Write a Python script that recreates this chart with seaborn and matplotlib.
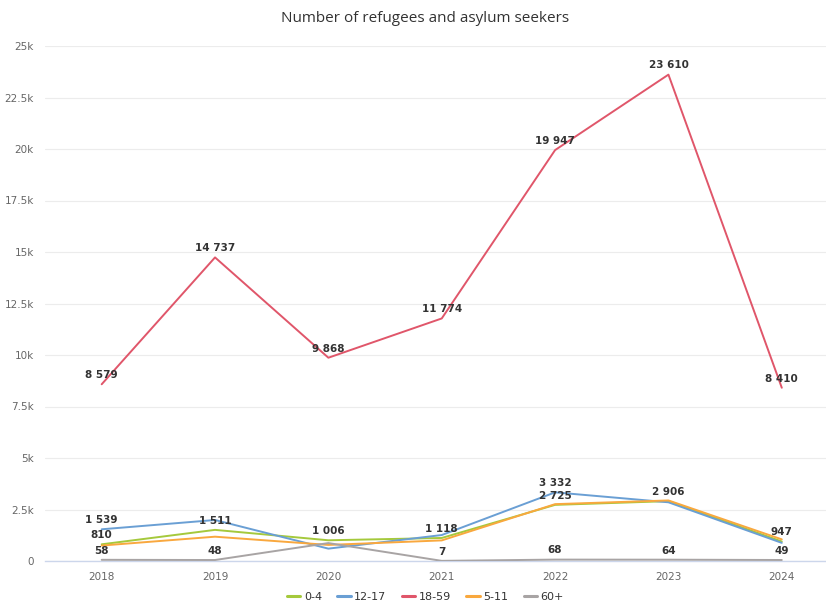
import matplotlib
matplotlib.use("Agg")
import matplotlib.pyplot as plt
import seaborn as sns
import pandas as pd

years = ["2018", "2019", "2020", "2021", "2022", "2023", "2024"]
age_0_4 = [810, 1511, 1006, 1118, 2725, 2906, 947]
age_12_17 = [1539, 1990, 600, 1260, 3332, 2850, 880]
age_18_59 = [8579, 14737, 9868, 11774, 19947, 23610, 8410]
age_5_11 = [750, 1180, 780, 1000, 2760, 2940, 1050]
age_60_plus = [58, 48, 870, 7, 68, 64, 49]

groups = ["0-4", "12-17", "18-59", "5-11", "60+"]
series = [age_0_4, age_12_17, age_18_59, age_5_11, age_60_plus]
palette = {"0-4": "#a5c93c", "12-17": "#6a9fd4", "18-59": "#e0566a",
           "5-11": "#f9a83e", "60+": "#a8a4a4"}

# which data labels are displayed (the rest are hidden to avoid overlap)
shown = {
    "0-4": [0, 1, 2, 3, 4, 5, 6],
    "12-17": [0, 4],
    "18-59": [0, 1, 2, 3, 4, 5, 6],
    "5-11": [],
    "60+": [0, 1, 3, 4, 5, 6],
}

rows = []
for g, vals in zip(groups, series):
    for i, v in enumerate(vals):
        rows.append({"year": i, "group": g, "value": v})
df = pd.DataFrame(rows)

sns.set_theme(style="white")
plt.rcParams["font.family"] = ["DejaVu Sans"]

fig = plt.figure(figsize=(8.26, 6.04), dpi=100)
ax = fig.add_axes([45 / 826, 43 / 604, 781 / 826, 515 / 604])

sns.lineplot(data=df, x="year", y="value", hue="group", hue_order=groups,
             palette=palette, linewidth=1.4, ax=ax, legend=False, zorder=3)

ax.set_xlim(-0.5, 6.39)
ax.set_ylim(0, 25000)
ax.set_yticks(range(0, 25001, 2500))
ax.set_yticklabels(["0", "2.5k", "5k", "7.5k", "10k", "12.5k", "15k",
                    "17.5k", "20k", "22.5k", "25k"])
ax.set_xticks(range(len(years)))
ax.set_xticklabels(years)
ax.set_xlabel("")
ax.set_ylabel("")
ax.grid(axis="y", color="#ececec", linewidth=0.8)
ax.grid(axis="x", visible=False)
for s in ["top", "right", "left"]:
    ax.spines[s].set_visible(False)
ax.spines["bottom"].set_color("#ccd6eb")
ax.spines["bottom"].set_linewidth(1)
ax.tick_params(axis="both", length=0, labelsize=7.5, colors="#666666")
ax.tick_params(axis="y", pad=8)
ax.tick_params(axis="x", pad=8)

for g, vals in zip(groups, series):
    for i in shown[g]:
        label = f"{vals[i]:,}".replace(",", " ")
        ax.annotate(label, (i, vals[i]), xytext=(0, 3), textcoords="offset points",
                    ha="center", va="bottom", fontsize=7.5, fontweight="bold",
                    color="#333333", zorder=4)

fig.text(0.515, 0.970, "Number of refugees and asylum seekers", ha="center",
         va="center", fontsize=11, color="#333333", family="Open Sans")

handles = [plt.Line2D([], [], color=palette[g], linewidth=2.2) for g in groups]
fig.legend(handles, groups, loc="center", bbox_to_anchor=(0.515, 0.012),
           ncol=5, frameon=False, fontsize=8, handlelength=1.2,
           handletextpad=0.3, columnspacing=1.4, labelcolor="#333333")

fig.savefig("out.png", dpi=100)
